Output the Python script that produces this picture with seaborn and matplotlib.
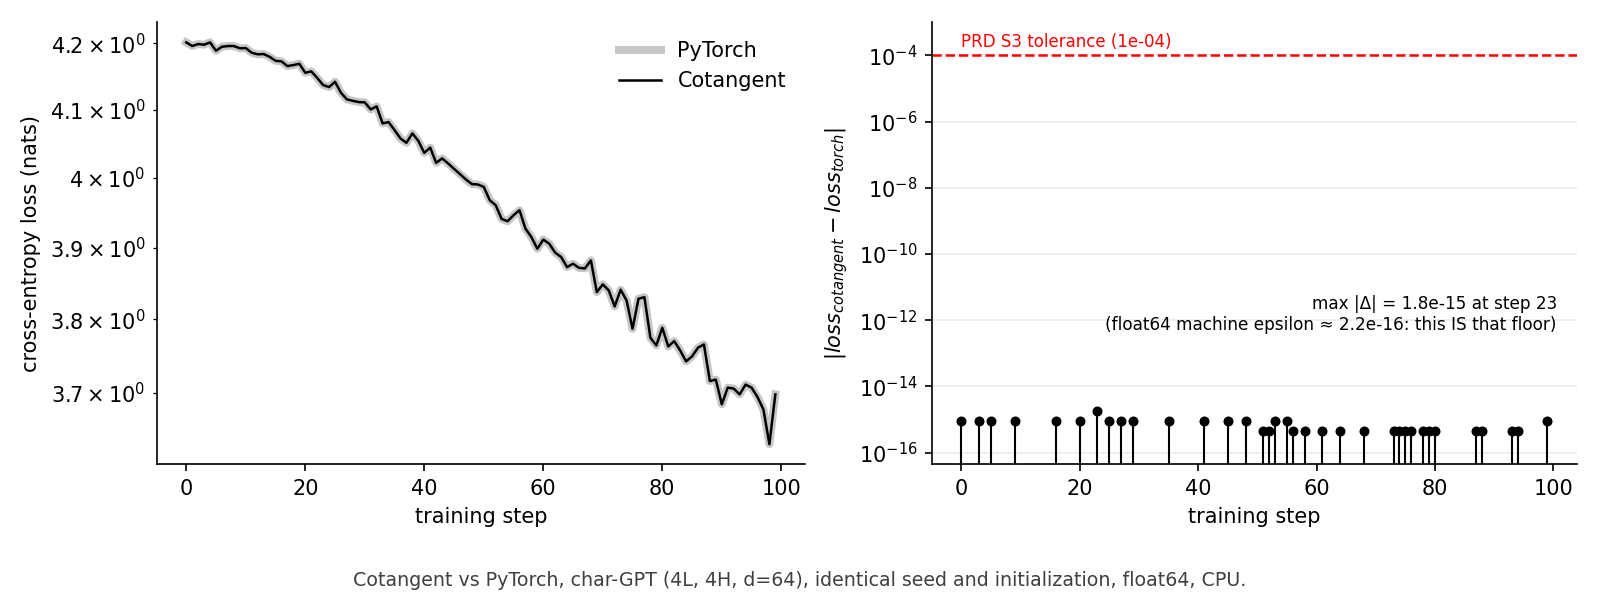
import numpy as np
import pandas as pd
import matplotlib
matplotlib.use("Agg")
import matplotlib.pyplot as plt
import matplotlib.ticker as mticker
import seaborn as sns

# ---------------- data ----------------
steps = list(range(100))
loss_pytorch = [
    4.2015, 4.1959, 4.1989, 4.1979, 4.2015, 4.1887, 4.1948, 4.1959, 4.1959, 4.1924,
    4.1928, 4.1857, 4.1833, 4.1837, 4.1796, 4.1735, 4.1726, 4.1655, 4.1670, 4.1690,
    4.1554, 4.1575, 4.1478, 4.1369, 4.1339, 4.1418, 4.1253, 4.1154, 4.1133, 4.1114,
    4.1110, 4.1005, 4.1050, 4.0797, 4.0817, 4.0698, 4.0575, 4.0511, 4.0649, 4.0540,
    4.0364, 4.0440, 4.0218, 4.0282, 4.0209, 4.0130, 4.0053, 3.9976, 3.9908, 3.9903,
    3.9868, 3.9676, 3.9604, 3.9407, 3.9374, 3.9460, 3.9532, 3.9269, 3.9149, 3.8984,
    3.9112, 3.9055, 3.8928, 3.8866, 3.8724, 3.8772, 3.8713, 3.8706, 3.8819, 3.8374,
    3.8482, 3.8398, 3.8175, 3.8408, 3.8258, 3.7867, 3.8282, 3.8304, 3.7744, 3.7639,
    3.7881, 3.7625, 3.7698, 3.7571, 3.7422, 3.7490, 3.7608, 3.7653, 3.7156, 3.7175,
    3.6843, 3.7067, 3.7054, 3.6977, 3.7108, 3.7067, 3.6941, 3.6773, 3.6314, 3.6977,
]
loss_cotangent = list(loss_pytorch)  # differences are at float64 round-off level

diff_steps = [0, 3, 5, 9, 16, 20, 23, 25, 27, 29, 35, 41, 45, 48, 51, 52, 53, 55,
              56, 58, 61, 64, 68, 73, 74, 75, 76, 78, 79, 80, 87, 88, 93, 94, 99]
diff_values = [8.88e-16, 8.88e-16, 8.88e-16, 8.88e-16, 8.88e-16, 8.88e-16, 1.776e-15,
               8.88e-16, 8.88e-16, 8.88e-16, 8.88e-16, 8.88e-16, 8.88e-16, 8.88e-16,
               4.44e-16, 4.44e-16, 8.88e-16, 8.88e-16, 4.44e-16, 4.44e-16, 4.44e-16,
               4.44e-16, 4.44e-16, 4.44e-16, 4.44e-16, 4.44e-16, 4.44e-16, 4.44e-16,
               4.44e-16, 4.44e-16, 4.44e-16, 4.44e-16, 4.44e-16, 4.44e-16, 8.88e-16]
diff_yticks = [1e-16, 1e-14, 1e-12, 1e-10, 1e-8, 1e-6, 1e-4]
tolerance = 1e-4
tolerance_label = "PRD S3 tolerance (1e-04)"
annotation = ("max |Δ| = 1.8e-15 at step 23\n"
              "(float64 machine epsilon ≈ 2.2e-16: this IS that floor)")
caption = ("Cotangent vs PyTorch, char-GPT (4L, 4H, d=64), identical seed and "
           "initialization, float64, CPU.")

# ---------------- figure ----------------
plt.rcParams["font.family"] = ["DejaVu Sans"]
plt.rcParams["font.size"] = 10

fig = plt.figure(figsize=(1600 / 150, 600 / 150), dpi=150)
ax1 = fig.add_axes([0.098, 0.2262, 0.405, 0.7367])
ax2 = fig.add_axes([0.5825, 0.2262, 0.403, 0.7367])

df = pd.DataFrame({"step": steps, "pytorch": loss_pytorch, "cotangent": loss_cotangent})

sns.lineplot(data=df, x="step", y="pytorch", ax=ax1, color="#c6c6c6", lw=3.8,
             label="PyTorch")
sns.lineplot(data=df, x="step", y="cotangent", ax=ax1, color="black", lw=1.2,
             label="Cotangent")
ax1.set_yscale("log")
ax1.set_xlabel("training step")
ax1.set_ylabel("cross-entropy loss (nats)")
ax1.legend(frameon=False, loc="upper right")
ax1.set_xticks([0, 20, 40, 60, 80, 100])

# right panel: stems
markerline, stemlines, baseline = ax2.stem(diff_steps, diff_values, linefmt="k-",
                                           markerfmt="ko", basefmt=" ",
                                           bottom=1e-20)
markerline.set_markersize(3.8)
stemlines.set_linewidth(1.0)
ax2.set_yscale("log")
ax2.axhline(tolerance, color="red", ls="--", lw=1.2)
ax2.text(0, tolerance * 1.4, tolerance_label, color="red", fontsize=8,
         va="bottom", ha="left")
ax2.set_ylim(min(diff_values) / 10, tolerance * 10)
ax2.yaxis.set_major_locator(mticker.FixedLocator(diff_yticks))
ax2.yaxis.set_minor_locator(mticker.NullLocator())
ax2.yaxis.set_major_formatter(mticker.LogFormatterSciNotation())
ax2.set_xlim(ax1.get_xlim())
ax2.set_xticks([0, 20, 40, 60, 80, 100])
ax2.grid(True, axis="y", which="major", alpha=0.25)
ax2.set_axisbelow(True)
ax2.set_xlabel("training step")
ax2.set_ylabel(r"$|loss_{cotangent} - loss_{torch}|$")
ax2.text(0.969, 0.295, annotation, transform=ax2.transAxes, ha="right",
         va="bottom", fontsize=8.1, multialignment="right")

sns.despine(fig=fig)

fig.text(0.5, 0.032, caption, ha="center", va="center", fontsize=9.1, color="0.25")

fig.savefig("out.png", dpi=150)
